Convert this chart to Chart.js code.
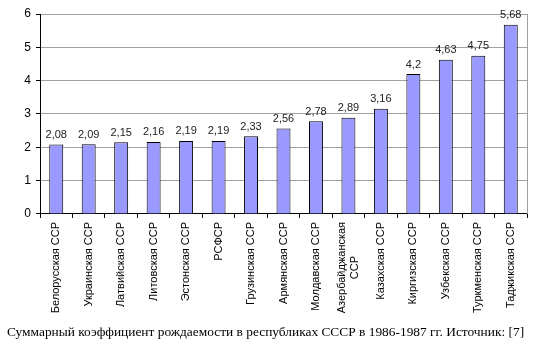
<!DOCTYPE html>
<html>
<head>
<meta charset="utf-8">
<script src="https://cdn.jsdelivr.net/npm/chart.js@4/dist/chart.umd.min.js"></script>
<style>
  html, body { margin: 0; padding: 0; background: #fff; }
  #chart { display: block; }
</style>
</head>
<body>
<canvas id="chart" width="541" height="351"></canvas>
<script>
// данные
const republics = ['Белорусская ССР', 'Украинская ССР', 'Латвийская ССР', 'Литовская ССР', 'Эстонская ССР',
    'РСФСР', 'Грузинская ССР', 'Армянская ССР', 'Молдавская ССР', ['Азербайджанская', 'ССР'],
    'Казахская ССР', 'Киргизская ССР', 'Узбекская ССР', 'Туркменская ССР', 'Таджикская ССР'];
const fertility = [2.08, 2.09, 2.15, 2.16, 2.19, 2.19, 2.33, 2.56, 2.78, 2.89, 3.16, 4.2, 4.63, 4.75, 5.68];
const yTicks = [0, 1, 2, 3, 4, 5, 6];
const caption = 'Суммарный коэффициент рождаемости в республиках СССР в 1986-1987 гг. Источник: [7]';

const sansFont = '"Liberation Sans", Arial, sans-serif';

// подписи значений над столбцами, рамка справа, подписи категорий (многострочные — по центру)
const extras = {
    id: 'extras',
    afterDatasetsDraw(chart) {
        const ctx = chart.ctx;
        const meta = chart.getDatasetMeta(0);
        ctx.save();
        ctx.font = '11px ' + sansFont;
        ctx.fillStyle = '#222';
        ctx.textAlign = 'center';
        ctx.textBaseline = 'bottom';
        meta.data.forEach((bar, i) => {
            ctx.fillText(String(fertility[i]).replace('.', ','), bar.x, bar.y - 4);
        });
        const a = chart.chartArea;
        ctx.strokeStyle = '#a0a0a0';
        ctx.lineWidth = 1;
        ctx.beginPath();
        ctx.moveTo(Math.round(a.right) + 0.5, a.top);
        ctx.lineTo(Math.round(a.right) + 0.5, a.bottom);
        ctx.stroke();
        ctx.restore();
    },
    afterDraw(chart) {
        const ctx = chart.ctx;
        const xs = chart.scales.x;
        const lineH = 13.2;
        ctx.save();
        ctx.font = '11px ' + sansFont;
        ctx.fillStyle = '#000';
        ctx.textAlign = 'center';
        ctx.textBaseline = 'middle';
        republics.forEach((lab, i) => {
            const lines = Array.isArray(lab) ? lab : [lab];
            const maxW = Math.max(...lines.map(l => ctx.measureText(l).width));
            ctx.save();
            ctx.translate(xs.getPixelForTick(i), xs.top + 8);
            ctx.rotate(-Math.PI / 2);
            lines.forEach((l, j) => {
                ctx.fillText(l, -maxW / 2, (j - (lines.length - 1) / 2) * lineH);
            });
            ctx.restore();
        });
        ctx.restore();
    }
};

new Chart(document.getElementById('chart').getContext('2d'), {
    type: 'bar',
    data: {
        labels: republics,
        datasets: [{
            data: fertility,
            backgroundColor: '#9999ff',
            borderColor: '#000',
            borderWidth: 1,
            categoryPercentage: 1,
            barPercentage: 0.43
        }]
    },
    options: {
        responsive: false,
        animation: false,
        layout: { padding: { top: 14, right: 14, left: 7, bottom: 0 } },
        plugins: {
            legend: { display: false },
            tooltip: { enabled: false },
            title: {
                display: true,
                position: 'bottom',
                align: 'start',
                text: caption,
                color: '#000',
                font: { family: '"Liberation Serif", "Times New Roman", serif', size: 13.4, weight: 'normal' },
                padding: { top: 0, bottom: 10 }
            }
        },
        scales: {
            x: {
                grid: { offset: true, drawOnChartArea: false, tickLength: 4, tickColor: '#000' },
                border: { color: '#000' },
                ticks: {
                    minRotation: 90, maxRotation: 90, autoSkip: false, padding: 3,
                    color: 'rgba(0,0,0,0)',
                    font: { family: sansFont, size: 11 }
                },
                afterFit: s => { s.height = 111; }
            },
            y: {
                min: 0, max: 6,
                afterBuildTicks: s => { s.ticks = yTicks.map(v => ({ value: v })); },
                grid: { color: '#a0a0a0', tickLength: 4, tickColor: '#000' },
                border: { color: '#000' },
                ticks: {
                    padding: 5, color: '#000',
                    font: { family: sansFont, size: 12 }
                },
                afterFit: s => { s.width = 33; }
            }
        }
    },
    plugins: [extras]
});
</script>
</body>
</html>
